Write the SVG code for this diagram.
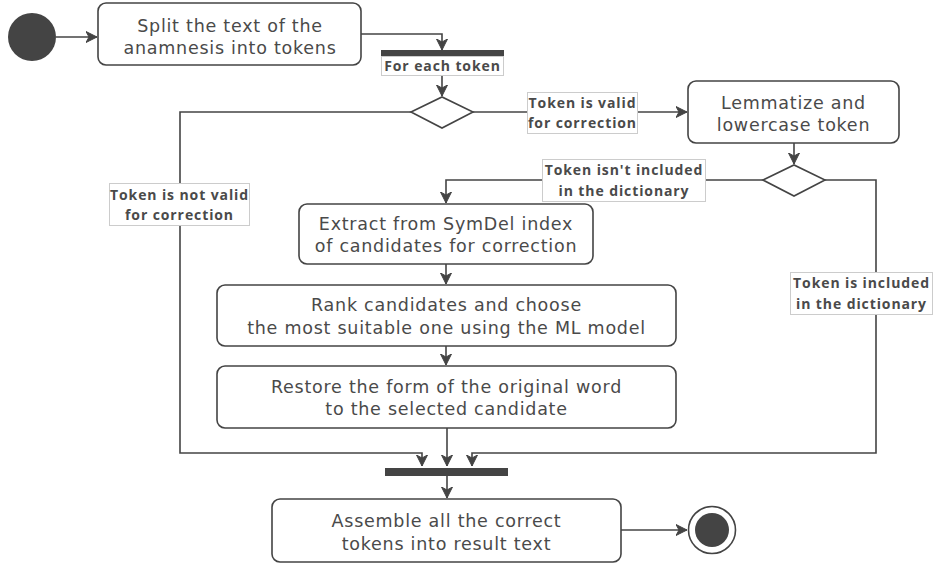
<svg xmlns="http://www.w3.org/2000/svg" width="935" height="563" viewBox="0 0 935 563">
<defs>
<marker id="arr" viewBox="0 0 12 12" refX="11" refY="6" markerWidth="12" markerHeight="12" markerUnits="userSpaceOnUse" orient="auto">
<path d="M0,0.5 L11,6 L0,11.5 L3,6 Z" fill="#444" stroke="#444" stroke-width="1"/>
</marker>
</defs>
<style>
.box{fill:#fff;stroke:#444;stroke-width:1.6}
.t{font-family:"DejaVu Sans",sans-serif;font-size:17.5px;letter-spacing:0.75px;fill:#4a4a4a;text-anchor:middle}
.lb{font-family:"Open Sans","DejaVu Sans",sans-serif;font-size:14px;letter-spacing:0.9px;font-weight:bold;fill:#4a4a4a;text-anchor:middle}
.lbox{fill:#fff;stroke:#ccc;stroke-width:1}
.ln{fill:none;stroke:#444;stroke-width:1.6}
.dm{fill:#fff;stroke:#444;stroke-width:1.6}
.bar{fill:#444}
</style>
<rect width="935" height="563" fill="#fff"/>
<g id="connectors">
<path class="ln" d="M56,37 L97,37" marker-end="url(#arr)"/>
<path class="ln" d="M361,34 L442,34 L442,50" marker-end="url(#arr)"/>
<path class="ln" d="M442,75 L442,96" marker-end="url(#arr)"/>
<path class="ln" d="M473,112 L687,112" marker-end="url(#arr)"/>
<path class="ln" d="M411,112 L180,112 L180,453 L422,453 L422,466" marker-end="url(#arr)"/>
<path class="ln" d="M794,143 L794,164" marker-end="url(#arr)"/>
<path class="ln" d="M763,180 L446,180 L446,203" marker-end="url(#arr)"/>
<path class="ln" d="M825,180 L876,180 L876,453 L472,453 L472,466" marker-end="url(#arr)"/>
<path class="ln" d="M446,264 L446,284" marker-end="url(#arr)"/>
<path class="ln" d="M446,346 L446,365" marker-end="url(#arr)"/>
<path class="ln" d="M447,428 L447,466" marker-end="url(#arr)"/>
<path class="ln" d="M447,476 L447,498" marker-end="url(#arr)"/>
<path class="ln" d="M621,530 L687,530" marker-end="url(#arr)"/>
</g>
<g id="start"><circle cx="32" cy="37" r="24" fill="#444"/></g>
<g id="split">
<rect class="box" x="98" y="3" width="263" height="62" rx="8"/>
<text class="t" x="230" y="31.5">Split the text of the</text>
<text class="t" x="230" y="54">anamnesis into tokens</text>
</g>
<g id="fork1">
<rect class="bar" x="381" y="50" width="123" height="6"/>
<rect class="lbox" x="381.5" y="56.5" width="122" height="19"/>
<text class="lb" x="442.5" y="70.5">For each token</text>
</g>
<g id="decision1"><polygon class="dm" points="411,112 442,97 473,112 442,128"/></g>
<g id="label-valid">
<rect class="lbox" x="527.5" y="92.5" width="110" height="41"/>
<text class="lb" x="582.5" y="108">Token is valid</text>
<text class="lb" x="582.5" y="128">for correction</text>
</g>
<g id="label-notvalid">
<rect class="lbox" x="109.5" y="183.5" width="140" height="42"/>
<text class="lb" x="179.5" y="200">Token is not valid</text>
<text class="lb" x="179.5" y="220">for correction</text>
</g>
<g id="lemmatize">
<rect class="box" x="688" y="81" width="211" height="62" rx="8"/>
<text class="t" x="793.5" y="109">Lemmatize and</text>
<text class="t" x="793.5" y="131">lowercase token</text>
</g>
<g id="decision2"><polygon class="dm" points="763,180 794,165 825,180 794,196"/></g>
<g id="label-notincluded">
<rect class="lbox" x="542.5" y="159.5" width="163" height="42"/>
<text class="lb" x="624" y="175">Token isn't included</text>
<text class="lb" x="624" y="196">in the dictionary</text>
</g>
<g id="label-included">
<rect class="lbox" x="790.5" y="272.5" width="142" height="42"/>
<text class="lb" x="861.5" y="288">Token is included</text>
<text class="lb" x="861.5" y="309">in the dictionary</text>
</g>
<g id="extract">
<rect class="box" x="299" y="204" width="294" height="60" rx="8"/>
<text class="t" x="446" y="229.5">Extract from SymDel index</text>
<text class="t" x="446" y="252">of candidates for correction</text>
</g>
<g id="rank">
<rect class="box" x="217" y="285" width="459" height="61" rx="8"/>
<text class="t" x="446.5" y="311">Rank candidates and choose</text>
<text class="t" x="446.5" y="333.5">the most suitable one using the ML model</text>
</g>
<g id="restore">
<rect class="box" x="217" y="366" width="459" height="62" rx="8"/>
<text class="t" x="446.5" y="392.5">Restore the form of the original word</text>
<text class="t" x="446.5" y="415">to the selected candidate</text>
</g>
<g id="join"><rect class="bar" x="385" y="468" width="123" height="8"/></g>
<g id="assemble">
<rect class="box" x="272" y="499" width="349" height="63" rx="8"/>
<text class="t" x="446.5" y="527">Assemble all the correct</text>
<text class="t" x="446.5" y="549.5">tokens into result text</text>
</g>
<g id="end">
<circle cx="712" cy="530" r="23.5" fill="#fff" stroke="#444" stroke-width="1.6"/>
<circle cx="712" cy="530" r="17" fill="#444"/>
</g>
</svg>
